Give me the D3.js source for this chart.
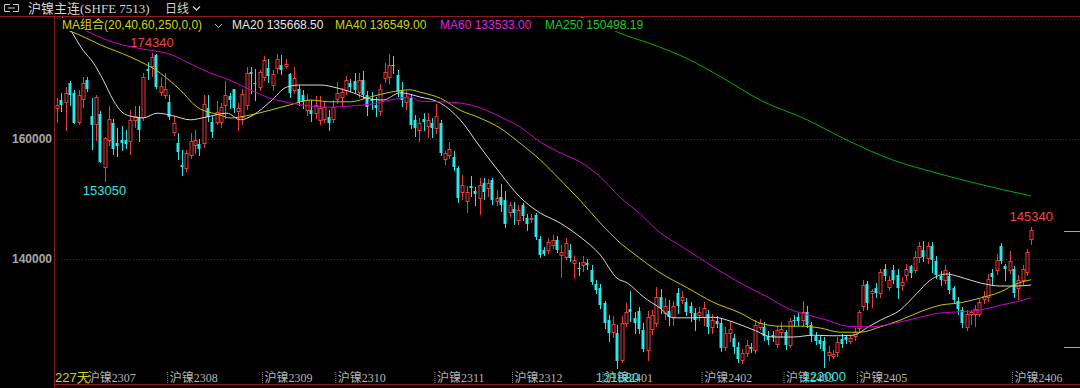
<!DOCTYPE html>
<html>
<head>
<meta charset="utf-8">
<script src="https://cdnjs.cloudflare.com/ajax/libs/d3/7.8.5/d3.min.js"></script>
<style>
  html, body { margin:0; padding:0; background:#000; overflow:hidden; }
  svg { display:block; }
</style>
</head>
<body>
<div id="chart"></div>
<script>
// daily bars, price in thousand yuan: [open, high, low, close]
const candles = [
  [165.1,166.8,162.9,165.7],[166.5,167.6,164.6,165.7],[166.2,168.7,161.5,167.6],[169.3,169.6,165.7,167.3],
  [167.6,168.2,162.6,162.7],[162.9,168.2,162.5,167.3],[166.6,170.3,165.4,169.3],[169.9,170.3,168.0,168.4],
  [163.8,166.8,158.4,162.3],[162.5,167.3,159.8,167.0],[164.2,164.6,156.2,156.2],[155.4,160.4,153.05,160.1],
  [159.8,165.5,159.0,163.4],[162.7,163.4,157.5,158.4],[159.3,161.8,157.1,158.9],[159.8,162.2,158.2,159.3],
  [159.8,161.5,158.5,159.2],[159.6,164.8,157.5,163.2],[163.2,165.5,162.0,163.8],[163.6,165.5,159.6,161.5],
  [163.7,171.0,163.2,170.3],[171.7,172.8,170.0,171.4],[172.1,174.34,170.5,173.7],[174.0,174.1,168.5,168.7],
  [167.9,170.3,167.3,168.8],[167.3,171.0,166.8,168.3],[166.1,167.3,163.4,163.7],[161.2,163.8,160.7,162.6],
  [159.4,161.0,156.6,157.9],[155.7,158.2,154.0,155.4],[155.1,158.2,154.6,157.6],[157.3,161.0,156.9,159.6],
  [159.0,161.5,157.6,159.8],[159.2,160.0,157.3,158.4],[159.3,167.3,158.7,165.9],[165.1,167.3,163.0,163.7],
  [162.9,163.9,160.4,161.2],[162.9,166.4,162.5,164.5],[162.9,166.0,162.0,165.4],[165.7,169.6,163.5,167.3],
  [167.2,167.6,165.2,166.5],[168.4,168.4,164.5,165.1],[164.6,166.0,161.5,165.1],[163.7,168.4,162.5,167.5],
  [165.7,172.0,165.0,171.0],[171.2,172.0,167.6,170.8],[169.4,171.6,166.5,169.2],[168.7,171.5,168.2,171.2],
  [170.4,173.9,169.8,173.2],[171.9,173.4,169.5,170.5],[169.0,171.5,168.2,170.8],[171.8,174.1,171.0,173.4],
  [172.3,174.0,170.8,171.5],[172.1,173.4,171.8,172.5],[170.8,171.0,167.0,167.6],[168.2,172.0,167.6,170.2],
  [168.3,169.0,165.7,166.2],[167.3,168.2,165.2,166.1],[164.8,167.5,164.0,166.5],[164.9,166.5,163.0,164.2],
  [164.3,167.2,163.5,165.7],[163.2,167.2,162.5,165.1],[163.4,166.2,162.9,165.4],[163.6,164.9,161.5,162.6],
  [163.4,166.5,162.9,165.4],[166.6,169.5,166.0,167.6],[167.0,168.5,165.5,167.9],[168.2,170.5,167.5,169.8],
  [169.4,170.0,168.0,168.7],[169.6,171.0,167.8,168.2],[167.9,171.0,167.0,169.8],[169.8,171.4,166.8,167.3],
  [167.3,168.0,164.0,165.4],[166.6,167.8,165.0,166.3],[165.7,167.0,163.8,165.1],[164.6,169.2,164.0,168.4],
  [170.1,172.6,169.5,171.2],[170.4,174.1,169.4,172.3],[172.4,173.8,171.0,172.3],[170.7,171.5,167.2,167.9],
  [168.2,169.5,165.5,166.5],[166.2,168.0,165.0,167.0],[166.8,167.5,161.8,162.3],[163.2,164.0,160.5,161.8],
  [161.5,163.5,159.7,162.6],[163.3,164.3,161.5,162.9],[162.2,164.3,160.4,163.2],[162.6,163.5,160.4,161.9],
  [161.8,165.9,161.0,163.8],[162.6,163.2,157.3,157.7],[156.6,158.0,155.8,157.6],[157.3,159.5,156.8,158.4],
  [157.0,158.0,154.8,155.3],[155.1,155.5,149.5,150.1],[151.2,154.0,150.0,152.3],[149.6,152.2,147.8,151.2],
  [152.2,153.8,150.5,151.8],[151.4,152.0,149.0,150.8],[150.1,153.5,147.5,152.3],[152.6,153.5,150.0,151.2],
  [151.8,153.3,150.5,152.6],[153.2,153.5,149.2,149.8],[149.7,151.5,149.0,150.1],[150.4,152.5,148.0,149.0],
  [149.8,151.3,145.3,145.9],[147.9,149.5,147.2,149.0],[148.4,149.5,145.8,147.6],[146.5,149.0,145.8,148.2],
  [149.0,149.3,146.5,147.1],[146.8,147.5,144.9,145.9],[146.7,147.5,146.2,146.9],[147.3,147.6,143.4,143.7],
  [143.4,143.8,140.3,140.7],[141.5,142.0,140.6,140.9],[141.5,143.5,141.0,142.9],[142.3,144.0,141.8,143.1],
  [143.2,143.8,141.2,141.5],[140.7,142.3,137.0,141.2],[140.4,143.5,140.0,142.6],[141.5,142.5,139.7,140.1],
  [139.3,140.5,136.8,139.8],[138.5,139.5,137.4,138.4],[139.0,140.5,138.0,139.5],[139.4,140.0,138.4,139.0],
  [138.2,139.0,135.8,136.2],[135.9,136.5,134.3,134.8],[135.1,135.9,131.8,132.3],[132.6,133.0,128.5,129.3],
  [129.8,130.7,126.4,127.6],[127.9,130.5,127.0,129.2],[127.6,129.0,121.88,123.0],[123.2,130.5,122.8,129.3],
  [129.3,132.6,128.8,131.2],[131.6,134.6,129.6,131.2],[130.1,131.2,127.6,129.3],[131.4,132.0,127.7,128.3],
  [128.2,129.3,124.6,125.0],[124.8,131.3,123.2,130.4],[128.4,131.5,127.5,130.7],[129.3,135.4,128.8,133.7],
  [133.6,135.0,131.0,131.9],[131.0,133.5,130.0,132.1],[131.4,133.1,129.0,130.3],[130.3,133.0,129.0,132.2],
  [134.4,135.2,131.0,132.1],[133.1,134.6,132.6,133.6],[132.9,133.5,130.7,131.1],[132.1,132.9,129.7,131.0],
  [131.0,131.8,128.2,129.8],[130.7,132.0,129.8,131.1],[130.3,132.8,129.0,131.8],[130.9,131.5,127.6,128.7],
  [128.7,130.9,127.6,129.8],[129.7,130.5,128.6,129.2],[129.3,130.0,124.6,125.1],[125.4,128.6,124.9,127.6],
  [127.6,129.6,126.4,128.3],[126.8,127.5,124.4,125.4],[125.4,126.2,122.9,123.4],[123.2,125.0,122.7,124.4],
  [124.3,126.5,123.8,125.7],[125.3,126.0,124.5,125.0],[124.8,129.8,124.4,129.0],[128.7,130.0,128.3,129.3],
  [128.7,129.5,126.5,127.1],[127.2,128.0,125.8,126.5],[127.3,128.0,126.3,127.0],[125.9,128.8,125.3,128.2],
  [127.9,129.5,127.0,128.4],[127.9,128.2,125.0,125.7],[125.7,130.2,125.3,129.6],[129.9,130.6,128.8,129.7],
  [130.3,131.0,129.0,129.6],[129.8,133.0,129.0,131.2],[131.2,132.2,128.7,129.0],[129.0,129.5,126.4,127.1],
  [127.2,127.8,125.8,126.3],[126.5,127.2,125.2,125.8],[126.4,127.0,122.0,124.6],[124.0,125.5,123.2,124.5],
  [123.9,124.8,123.5,124.2],[124.5,127.0,123.8,126.2],[126.6,127.5,125.3,125.9],[127.0,127.4,126.0,126.5],
  [126.3,127.3,126.0,126.8],[127.1,128.5,126.5,127.9],[128.5,131.5,128.0,131.2],[132.1,136.5,131.5,135.7],
  [135.9,136.3,131.7,132.6],[134.3,135.0,132.0,134.6],[135.1,136.0,133.7,134.3],[134.3,138.3,133.7,137.9],
  [138.4,139.2,136.5,137.1],[135.4,137.1,134.9,136.5],[138.2,139.0,136.0,136.5],[137.3,138.3,133.5,135.1],
  [135.7,137.0,134.9,136.2],[137.3,139.2,136.5,138.4],[138.8,139.0,137.0,137.6],[138.2,141.3,137.8,140.4],
  [140.4,142.8,139.5,142.1],[141.5,143.0,139.7,140.3],[140.1,142.8,139.4,142.1],[142.2,142.8,137.9,139.8],
  [139.7,140.5,136.8,137.3],[137.2,138.0,135.6,136.5],[136.5,139.0,136.0,138.2],[137.1,137.8,134.3,134.8],
  [135.1,135.5,132.7,133.2],[133.0,133.7,130.9,131.6],[131.5,132.0,128.6,129.3],[128.7,131.5,128.2,130.9],
  [130.8,131.5,129.2,131.1],[130.9,132.3,128.9,131.6],[130.9,133.3,130.5,132.9],[133.3,134.7,132.7,133.8],
  [133.7,137.5,133.0,136.6],[137.7,138.3,135.9,137.0],[138.2,140.8,137.5,139.8],[142.1,142.7,139.3,139.6],
  [138.8,139.2,136.5,138.3],[138.2,141.3,137.7,139.6],[138.4,138.8,133.7,134.3],[135.1,137.3,133.4,136.5],
  [136.5,139.0,135.9,138.4],[137.9,141.7,137.3,141.2],[143.4,145.34,142.5,144.9]
];

// moving averages: [bar index, value in thousand yuan]
const ma20 = [[0,181.8],[1.9,179.5],[3.5,177.7],[6,174.8],[8.4,172.7],[10.7,169.8],[13,166.5],[15,164.5],
  [17.6,163.7],[19.9,163.5],[23.2,164.3],[26.2,164],[30.9,163.2],[34.8,163.7],[39.4,164.3],[42.5,163.2],
  [45.5,164],[49.4,166.2],[53.4,168.7],[56.4,169],[61,169],[65,168.5],[68.7,167.7],[71.9,166.8],[75.6,166.5],
  [79.6,167.7],[84.2,167],[88.9,166],[93.5,163.2],[98.1,158.7],[102.8,154.3],[107.4,150.3],[112,147.7],
  [116.7,146],[121.3,143.7],[126,140.7],[129.9,136.8],[132.3,136],[136,133.7],[139.9,131.8],[142.9,130.2],
  [147.6,130.2],[152.2,130.3],[156.8,129.5],[161.5,128.2],[166.1,127],[170.8,127],[175.4,127.3],[180,127.2],
  [184.7,127.3],[188,128.6],[191,129.8],[195.6,131.5],[199.5,134.3],[202.6,136.5],[206.5,137.5],[209.5,137],
  [214.2,136],[218.8,135.5],[222.7,135.5],[226,135.67]];
const ma40 = [[0,178.8],[5.3,177.3],[10,175.7],[16.9,173.7],[23.9,171],[28.5,168.2],[32.5,165.3],[37.8,164],
  [40.1,163.5],[44.8,164],[49.4,164.8],[54.1,165.7],[58.7,166.5],[63.3,166.2],[68,166.2],[72.6,167],[77.3,167.8],
  [81.9,168.2],[84.2,167.8],[88.9,166.8],[93.5,164.8],[98.1,163.5],[102.8,161.8],[107.4,159.3],[112.1,156.5],
  [116.7,153.2],[121.3,149.8],[126,146],[130.6,142.7],[133.6,141],[139.9,137.7],[146.2,135.2],[152.2,132.8],
  [158.5,131],[163.1,129.3],[167.7,128.8],[172.4,128.8],[177,128.5],[181.7,127.8],[186.3,127.8],[191,128.7],
  [195.6,129.8],[200.2,131.2],[204.9,132.3],[209.5,132.7],[214.2,133.5],[218.8,134.5],[222.7,135.9],[226,136.55]];
const ma60 = [[0,179.8],[5.3,178.5],[10.4,176.8],[16.2,175.5],[21.6,174.8],[25.5,174.3],[31.6,172.3],[35.5,171],
  [40.1,169.8],[44.8,168.2],[49.4,166.8],[54.1,166],[58.7,165.5],[63.3,165.3],[68,165.5],[72.6,165.8],[77.3,166.5],
  [81.9,167],[84.2,166.3],[88.9,166.2],[93.5,166],[98.1,165.2],[102.8,163.7],[107.4,162],[112.1,159.5],
  [116.7,157.7],[121.3,156.2],[126,153.7],[130.6,150.3],[135.3,147.5],[139.2,144.8],[146.2,141.5],[152.2,138.7],
  [158.5,136],[164.7,133.7],[169.4,131.8],[174,130.7],[178.7,129.8],[183.3,128.8],[188.6,128.7],[195.6,129.5],
  [200.2,130.3],[204.9,131],[209.5,131.2],[214.2,131.5],[218.8,132.3],[223.4,133],[226,133.53]];
const ma250 = [[120,180.6],[126,179.2],[130,177.8],[137.6,175.9],[146.2,173.4],[154.6,170.1],[163.1,166.5],
  [174,163.2],[183.3,159.8],[193.9,156.5],[203.2,154.5],[213.3,152.6],[226,150.5]];

const maNames = ['MA20', 'MA40', 'MA60', 'MA250'];
const maValues = [135668.50, 136549.00, 133533.00, 150498.19];
const maColors = ['#d8d8d8', '#c8c800', '#d000d0', '#00b000'];
const maTextColors = ['#e6e6e6', '#d2d200', '#e020e0', '#22c822'];

// x axis: main contract labels at bar index
const monthIdx = [7, 26, 48, 65, 88, 106, 127, 150, 169, 186, 222];
const monthNames = ['沪镍2307','沪镍2308','沪镍2309','沪镍2310','沪镍2311','沪镍2312',
                    '沪镍2401','沪镍2402','沪镍2403','沪镍2405','沪镍2406'];
const yTicks = [140, 160];
const yGrid = [140, 160, 180];

// bars carrying a high / low marker
const highMarks = [22, 226];
const lowMarks = [11, 130, 178];
// price marks on the right edge
const rightMarks = [144.67, 125.33];

const W = 1080, H = 388;
const plot = {l:55, t:17, b:384};
const step = 4.31;
const upColor = '#e63c3c';
const downColor = '#2ee6e6';
const axisColor = '#8c1c1c';
const gridColor = '#7a1414';

const bars = candles.map((d, i) => ({i, o:d[0], h:d[1], l:d[2], c:d[3]}));

const svg = d3.select('#chart').append('svg')
  .attr('width', W)
  .attr('height', H)
  .style('background', '#000');

// scales
const n = bars.length;
const xi = d3.scaleLinear()
  .domain([-0.5, n - 0.5])
  .range([plot.l, plot.l + step * n]);
const y = d3.scaleLinear()
  .domain([119.1667, 180.3333])
  .range([plot.b, plot.t]);
const px = i => Math.round(xi(i)) + 0.5;
const py = v => Math.round(y(v));

svg.append('clipPath').attr('id', 'clip')
  .append('rect')
  .attr('x', plot.l).attr('y', plot.t)
  .attr('width', W - plot.l).attr('height', plot.b - plot.t);

// gridlines
svg.append('g').selectAll('line')
  .data(yGrid)
  .join('line')
  .attr('x1', plot.l).attr('x2', W)
  .attr('y1', d => py(d) + 0.5)
  .attr('y2', d => py(d) + 0.5)
  .attr('stroke', gridColor)
  .attr('stroke-dasharray', '1,2');

// y axis
const axisY = d3.axisLeft(y)
  .tickValues(yTicks)
  .tickSize(0)
  .tickPadding(1)
  .tickFormat(d => d3.format('d')(d * 1000));
const axisYNode = svg.append('g')
  .attr('transform', `translate(${plot.l - 2},0)`)
  .call(axisY);
axisYNode.select('.domain').remove();
axisYNode.selectAll('text')
  .attr('fill', '#a8a8a8')
  .style('font', 'bold 12px "Liberation Sans", Arial, sans-serif');

const g = svg.append('g').attr('clip-path', 'url(#clip)');

// candles: wick, then body
const candleG = g.append('g').selectAll('g')
  .data(bars)
  .join('g');
candleG.append('line')
  .attr('x1', d => px(d.i))
  .attr('x2', d => px(d.i))
  .attr('y1', d => py(d.h))
  .attr('y2', d => py(d.l) + 1)
  .attr('stroke', d => d.c >= d.o ? upColor : downColor);
candleG.filter(d => d.c < d.o).append('rect')
  .attr('x', d => px(d.i) - 2)
  .attr('width', 3)
  .attr('y', d => py(d.o))
  .attr('height', d => Math.max(1, py(d.c) - py(d.o)))
  .attr('fill', downColor);
candleG.filter(d => d.c >= d.o).append('rect')
  .attr('x', d => px(d.i) - 1.5)
  .attr('width', 3)
  .attr('y', d => py(d.c) + 0.5)
  .attr('height', d => Math.max(0, py(d.o) - py(d.c)))
  .attr('fill', '#000')
  .attr('stroke', upColor);

// moving average lines
const line = d3.line()
  .x(d => xi(d[0]))
  .y(d => y(d[1]))
  .curve(d3.curveMonotoneX);
g.append('g').selectAll('path')
  .data([ma20, ma40, ma60, ma250])
  .join('path')
  .attr('d', line)
  .attr('fill', 'none')
  .attr('stroke', (d, k) => maColors[k])
  .attr('stroke-width', 1);

// high markers
svg.append('g').selectAll('text')
  .data(highMarks)
  .join('text')
  .attr('x', i => xi(i))
  .attr('y', i => y(bars[i].h) - 6)
  .attr('text-anchor', 'middle')
  .attr('fill', '#f04646')
  .style('font', '13px "Liberation Sans", Arial, sans-serif')
  .text(i => Math.round(bars[i].h * 1000));

// frame lines
svg.append('line')
  .attr('x1', 0).attr('x2', W).attr('y1', 16.5).attr('y2', 16.5)
  .attr('stroke', axisColor);
svg.append('line')
  .attr('x1', plot.l - 0.5).attr('x2', plot.l - 0.5).attr('y1', 16).attr('y2', H)
  .attr('stroke', axisColor);
svg.append('line')
  .attr('x1', plot.l).attr('x2', W).attr('y1', plot.b + 0.5).attr('y2', plot.b + 0.5)
  .attr('stroke', axisColor);

// right edge price marks
svg.append('g').selectAll('line')
  .data(rightMarks)
  .join('line')
  .attr('x1', 1064).attr('x2', W)
  .attr('y1', d => py(d) + 0.5)
  .attr('y2', d => py(d) + 0.5)
  .attr('stroke', '#b4b41e');

// x axis with contract labels
const axisX = d3.axisBottom(xi)
  .tickValues(monthIdx)
  .tickSize(12)
  .tickFormat((d, k) => monthNames[k]);
const axisXNode = svg.append('g')
  .attr('transform', `translate(0,${plot.b - 12})`)
  .call(axisX);
axisXNode.select('.domain').remove();
axisXNode.selectAll('line')
  .attr('stroke', '#8a8a8a')
  .attr('stroke-dasharray', '1,1')
  .attr('transform', 'translate(-2,0)');
axisXNode.selectAll('text')
  .attr('text-anchor', 'start')
  .attr('x', 0)
  .attr('y', 6)
  .attr('dy', '0.35em')
  .attr('fill', '#b4b4b4')
  .style('font', '12px "Liberation Serif", "Noto Sans CJK SC", serif');

svg.append('text')
  .attr('x', plot.l)
  .attr('y', 382)
  .attr('fill', '#d2d21e')
  .style('font', '13px "Liberation Sans", "Noto Sans CJK SC", sans-serif')
  .text(`${n}天`);

// low markers
svg.append('g').selectAll('text')
  .data(lowMarks)
  .join('text')
  .attr('x', i => xi(i))
  .attr('y', i => Math.min(y(bars[i].l) + 14, 382))
  .attr('text-anchor', 'middle')
  .attr('fill', '#2ee6e6')
  .style('font', '13px "Liberation Sans", Arial, sans-serif')
  .text(i => Math.round(bars[i].l * 1000));

// legend row
const legend = svg.append('g');
legend.append('rect')
  .attr('x', plot.l).attr('y', 18)
  .attr('width', 600).attr('height', 13)
  .attr('fill', '#000');
legend.append('text')
  .attr('x', 62).attr('y', 29)
  .attr('fill', '#d2d21e')
  .style('font', '12px "Liberation Sans", "Noto Sans CJK SC", sans-serif')
  .text('MA组合(20,40,60,250,0,0)');
legend.append('path')
  .attr('d', 'M215,24 L218.5,27.5 L222,24')
  .attr('fill', 'none')
  .attr('stroke', '#d2d21e');
const legendX = [232, 335, 440, 545];
legend.selectAll('text.ma')
  .data(maNames)
  .join('text')
  .attr('class', 'ma')
  .attr('x', (d, k) => legendX[k])
  .attr('y', 29)
  .attr('fill', (d, k) => maTextColors[k])
  .style('font', '12px "Liberation Sans", Arial, sans-serif')
  .text((d, k) => `${d} ${maValues[k].toFixed(2)}`);

// title bar
const title = svg.append('g');
title.append('path')
  .attr('d', 'M10,4.5 H4.5 V11.5 H10 M13,4.5 H18.5 V11.5 H13 M8,8 H15')
  .attr('fill', 'none')
  .attr('stroke', '#c8c8c8');
title.append('text')
  .attr('x', 28).attr('y', 13)
  .attr('fill', '#d2d2d2')
  .style('font', '13px "Liberation Serif", "Noto Sans CJK SC", serif')
  .text('沪镍主连(SHFE 7513)');
title.append('text')
  .attr('x', 165).attr('y', 13)
  .attr('fill', '#d2d2d2')
  .style('font', '12px "Noto Sans CJK SC", sans-serif')
  .text('日线');
title.append('path')
  .attr('d', 'M193,6.5 L196.5,10 L200,6.5')
  .attr('fill', 'none')
  .attr('stroke', '#d2d2d2')
  .attr('stroke-width', 1.3);
</script>
</body>
</html>
